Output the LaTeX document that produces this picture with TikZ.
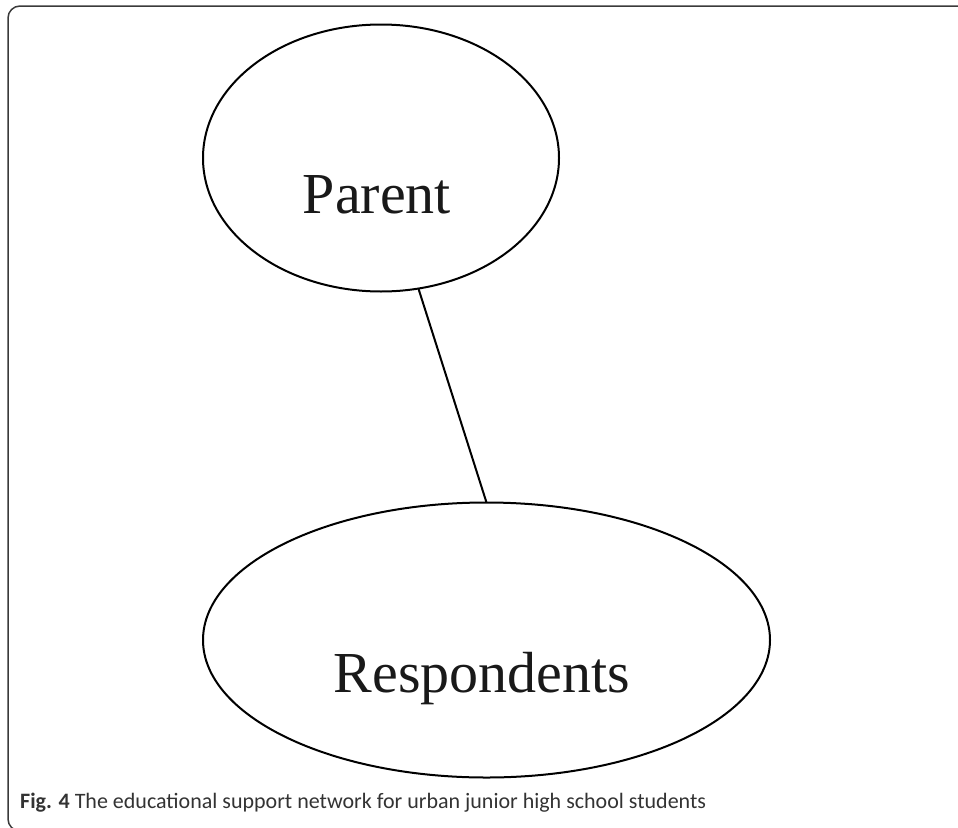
\documentclass[tikz,border=0pt]{standalone}
\usepackage{fontspec}
\setmainfont{Liberation Serif}
\newfontfamily\capfont{Carlito}
\usetikzlibrary{shapes.geometric}
\definecolor{framegray}{HTML}{3A3A3A}
\definecolor{capgray}{HTML}{333333}
\begin{document}
\begin{tikzpicture}[x=1pt,y=-1pt,
  bubble/.style={draw=black, line width=2pt, ellipse, inner sep=0pt, outer sep=0pt},
  bubbletext/.style={font=\fontsize{58}{60}\selectfont, anchor=base, inner sep=0pt, text=black!90},
  edge/.style={draw=black, line width=2pt},
  frame/.style={draw=framegray, line width=1.5pt, rounded corners=12pt},
  caption/.style={font=\capfont\fontsize{22}{24}\selectfont, anchor=base west, inner sep=0pt, text=capgray}]
\useasboundingbox (0,0) rectangle (958,827);
\draw[frame] (8,6) rectangle (990,831);
\node[bubble, minimum width=356pt, minimum height=267pt] (parent) at (381,158) {};
\node[bubble, minimum width=567pt, minimum height=275pt] (resp) at (486.5,640) {};
\node[bubbletext] (parentlabel) at (377,213) {Parent};
\node[bubbletext] (resplabel) at (482,692) {Respondents};
\draw[edge] (parent.-74.7) -- (resp.90.6);
\node[caption] (cap) at (20,808) {{\bfseries Fig. 4} The educational support network for urban junior high school students};
\end{tikzpicture}
\end{document}
